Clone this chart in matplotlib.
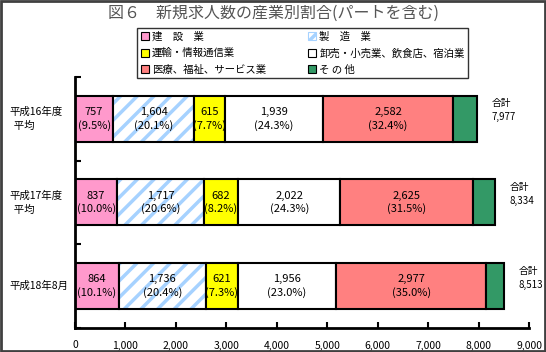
import numpy as np
import matplotlib.pyplot as plt
from matplotlib.patches import Patch, Rectangle

plt.rcParams['font.family'] = ['Noto Sans CJK JP', 'DejaVu Sans']
plt.rcParams['hatch.linewidth'] = 2.5

# data
periods = ['平成16年度\n  平均', '平成17年度\n  平均', '平成18年8月']
industries = ['建　設　業', '製　造　業', '運輸・情報通信業',
              '卸売・小売業、飲食店、宿泊業', '医療、福祉、サービス業', 'そ の 他']
construction = [757, 837, 864]
manufacturing = [1604, 1717, 1736]
transport = [615, 682, 621]
retail = [1939, 2022, 1956]
medical = [2582, 2625, 2977]
other = [480, 451, 359]
totals = [7977, 8334, 8513]
pct_construction = [9.5, 10.0, 10.1]
pct_manufacturing = [20.1, 20.6, 20.4]
pct_transport = [7.7, 8.2, 7.3]
pct_retail = [24.3, 24.3, 23.0]
pct_medical = [32.4, 31.5, 35.0]

series = [construction, manufacturing, transport, retail, medical, other]
pcts = [pct_construction, pct_manufacturing, pct_transport, pct_retail, pct_medical, None]
colors = ['#FF99CC', 'white', '#FFFF00', 'white', '#FF8080', '#339966']

fig = plt.figure(figsize=(5.46, 3.52), dpi=100)
ax = fig.add_axes([0.1374, 0.0682, 0.8315, 0.7131])

y = np.arange(len(periods))
bar_h = 0.55
left = np.zeros(len(periods))
for i, vals in enumerate(series):
    vals = np.array(vals)
    if i == 1:
        # striped manufacturing bar
        ax.barh(y, vals, left=left, height=bar_h, color='white',
                edgecolor='#A6D2FF', hatch='//', linewidth=0)
        ax.barh(y, vals, left=left, height=bar_h, color='none',
                edgecolor='black', linewidth=1.5)
    else:
        ax.barh(y, vals, left=left, height=bar_h, color=colors[i],
                edgecolor='black', linewidth=1.5)
    if pcts[i] is not None:
        for j in range(len(periods)):
            ax.text(left[j] + vals[j] / 2, y[j], f'{vals[j]:,}\n({pcts[i][j]:.1f}%)',
                    ha='center', va='center', fontsize=8, linespacing=1.3)
    left = left + vals

for j in range(len(periods)):
    ax.text(totals[j] + 280, y[j] - 0.1, f'合計\n{totals[j]:,}',
            ha='left', va='center', fontsize=7, linespacing=1.5)
    ax.text(-0.145, y[j], periods[j], transform=ax.get_yaxis_transform(),
            ha='left', va='center', fontsize=7.5, linespacing=1.5)

ax.set_xlim(0, 9000)
ax.set_ylim(2.5, -0.5)
ax.set_xticks(np.arange(0, 9001, 1000))
ax.set_xticklabels([f'{v:,}' for v in range(0, 9001, 1000)], fontsize=7.5)
ax.set_yticks([-0.5, 0.5, 1.5, 2.5])
ax.set_yticklabels([])
ax.tick_params(axis='x', direction='in', length=4, width=1.5, pad=9)
ax.tick_params(axis='y', direction='in', length=4, width=1.5)
ax.spines['top'].set_visible(False)
ax.spines['right'].set_visible(False)
ax.spines['left'].set_linewidth(2)
ax.spines['bottom'].set_linewidth(2)

# legend, column-wise order as in the reference
handles = [Patch(facecolor=colors[k], edgecolor='black', linewidth=0.8) for k in range(6)]
handles[1] = Patch(facecolor='white', edgecolor='#A6D2FF', hatch='//', linewidth=0.8)
order = [0, 2, 4, 1, 3, 5]
leg = fig.legend([handles[k] for k in order], [industries[k] for k in order],
                 ncol=2, loc='upper left', bbox_to_anchor=(137 / 546, 1 - 28 / 352),
                 borderaxespad=0, frameon=True, fancybox=False, edgecolor='black',
                 fontsize=7.5, handlelength=0.8, handleheight=0.8, handletextpad=0.3,
                 columnspacing=4.0, labelspacing=0.6, borderpad=0.35)
leg.get_frame().set_linewidth(1.0)

fig.text(0.5, 1 - 13 / 352, '図６　新規求人数の産業別割合(パートを含む)',
         ha='center', va='center', fontsize=11.5, color='#555555')

fig.patches.append(Rectangle((0.002, 0.003), 0.996, 0.994, transform=fig.transFigure,
                             fill=False, edgecolor='#404040', linewidth=2))

fig.savefig('out.png', dpi=100)
